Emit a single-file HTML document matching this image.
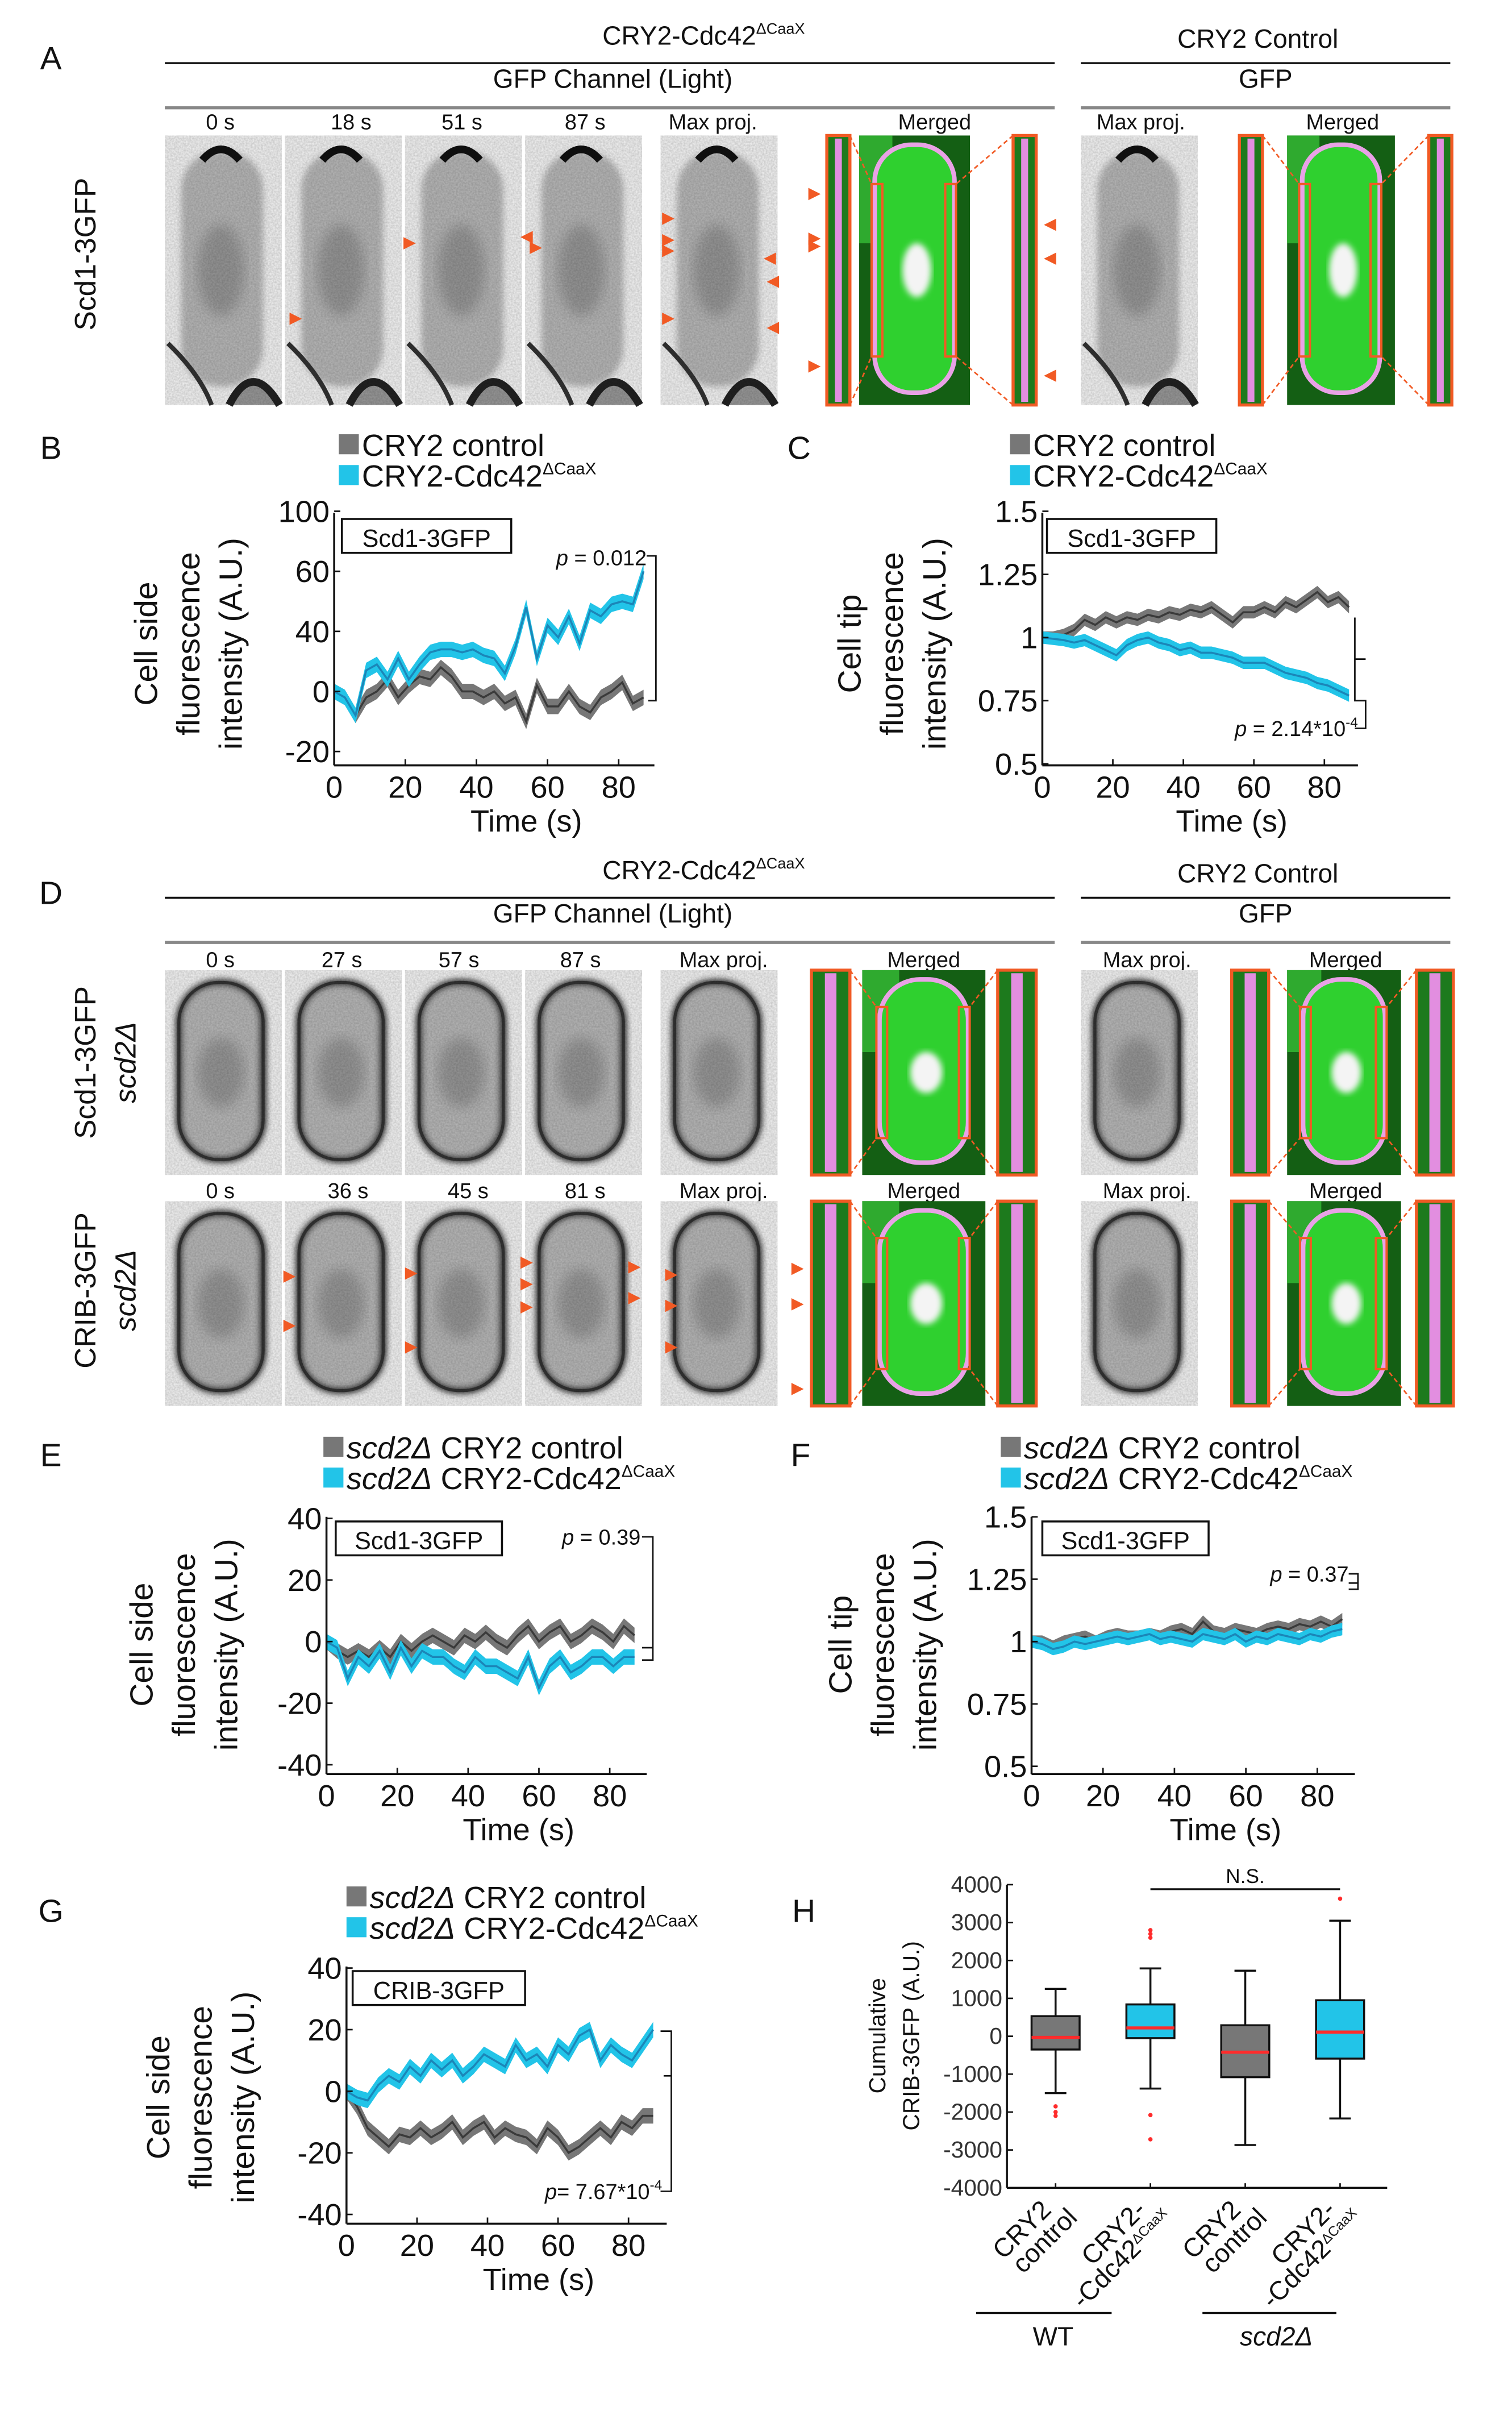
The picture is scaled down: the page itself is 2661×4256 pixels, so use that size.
<!DOCTYPE html>
<html><head><meta charset="utf-8"><style>
html,body{margin:0;padding:0;background:#fff;}
body{width:2661px;height:4251px;overflow:hidden;}
svg text{font-family:"Liberation Sans",sans-serif;}
</style></head><body>
<svg id="fig" xmlns="http://www.w3.org/2000/svg" width="2661" height="4251" viewBox="0 0 982 1569">
<defs>
<filter id="grain" x="0" y="0" width="100%" height="100%"><feTurbulence type="fractalNoise" baseFrequency="0.9" numOctaves="2" seed="3"/><feColorMatrix values="0 0 0 0 0  0 0 0 0 0  0 0 0 0 0  0 0 0 0.22 0"/><feComposite in2="SourceGraphic" operator="in"/></filter>
<filter id="blur2"><feGaussianBlur stdDeviation="2"/></filter>
<filter id="blur4"><feGaussianBlur stdDeviation="4"/></filter>
</defs>
<g id="root"></g>
</svg>
<script>
// ---------- chart data ----------
const times = [0,3,6,9,12,15,18,21,24,27,30,33,36,39,42,45,48,51,54,57,60,63,66,69,72,75,78,81,84,87];
const xTicks = [0,20,40,60,80];
const bGray = [0,-2,-8,-2,0,4,-2,2,5,4,8,5,0,0,-2,0,-4,-2,-10,2,-5,-5,0,-5,-7,-2,0,3,-4,-2];
const bBlue = [0,-2,-8,7,9,4,11,4,9,13,14,14,13,14,12,11,6,15,28,11,22,18,25,16,27,25,29,30,29,40];
const bTickVals = [-20,0,20,40,60];
const bTickLabels = ["-20","0","40","60","100"];
const cGray = [1,1,1.01,1.03,1.07,1.05,1.08,1.06,1.08,1.07,1.09,1.08,1.10,1.09,1.11,1.10,1.12,1.09,1.06,1.10,1.10,1.12,1.10,1.14,1.12,1.15,1.18,1.14,1.16,1.12];
const cBlue = [1,0.995,0.99,0.98,0.99,0.97,0.95,0.93,0.97,0.99,1.0,0.98,0.97,0.95,0.96,0.94,0.94,0.93,0.92,0.9,0.9,0.9,0.88,0.86,0.85,0.84,0.82,0.81,0.79,0.77];
const cTickVals = [0.5,0.75,1,1.25,1.5];
const cTickLabels = ["0.5","0.75","1","1.25","1.5"];
const eGray = [0,-3,-5,-3,-5,-2,-5,0,-3,0,2,0,-2,2,0,3,0,-2,2,5,0,3,5,0,2,5,3,0,5,2];
const eBlue = [0,-2,-12,-5,-8,-3,-10,-2,-8,-3,-5,-5,-8,-10,-5,-8,-8,-10,-12,-5,-15,-8,-5,-10,-8,-5,-5,-8,-5,-5];
const eTickVals = [-40,-20,0,20,40];
const fGray = [1,1,0.98,1,1.01,1.02,1.0,1.02,1.03,1.02,1.02,1.03,1.02,1.04,1.05,1.03,1.08,1.04,1.03,1.05,1.04,1.03,1.05,1.06,1.05,1.07,1.06,1.08,1.06,1.09];
const fBlue = [1,0.99,0.97,0.98,1,0.99,1.0,1.01,1.02,1.01,1.02,1.03,1.01,1.02,1.01,1.0,1.03,1.02,1.01,1.03,1.0,1.02,1.01,1.03,1.02,1.01,1.03,1.02,1.04,1.05];
const gGray = [0,-5,-12,-15,-18,-14,-15,-12,-15,-13,-10,-15,-12,-10,-15,-12,-14,-15,-18,-12,-15,-20,-18,-15,-12,-15,-10,-12,-8,-8];
const gBlue = [0,-2,-3,2,5,3,8,5,10,7,10,5,8,12,10,8,15,10,12,8,15,12,18,20,10,15,12,10,15,20];
const hCategories = ["WT CRY2 control","WT CRY2-Cdc42","scd2 CRY2 control","scd2 CRY2-Cdc42"];
const hQ1 = [-350,-50,-1080,-590];
const hMedian = [-30,220,-420,110];
const hQ3 = [530,840,290,950];
const hWhiskerLow = [-1500,-1380,-2870,-2170];
const hWhiskerHigh = [1250,1790,1730,3050];
const hOutliers = [[-1850,-2000,-2100],[2800,2700,2600,-2080,-2720],[],[3630]];
const hTickVals = [-4000,-3000,-2000,-1000,0,1000,2000,3000,4000];

const NS="http://www.w3.org/2000/svg";
const root=document.getElementById('root');
function el(tag,attrs,parent){const e=document.createElementNS(NS,tag);for(const k in attrs)e.setAttribute(k,attrs[k]);(parent||root).appendChild(e);return e;}
function txt(x,y,s,size,opts,parent){opts=opts||{};const t=el('text',{x:x,y:y,'font-size':size,'text-anchor':opts.anchor||'middle',fill:opts.fill||'#111'},parent);if(opts.rot)t.setAttribute('transform','rotate('+opts.rot+' '+x+' '+y+')');if(opts.italic)t.setAttribute('font-style','italic');if(opts.html)t.innerHTML=s;else t.textContent=s;return t;}
const GRAYF='#777', GRAYL='#3a3a3a', BLUEF='#22c4e8', BLUEL='#1b86b8';

// ---------- panel letters ----------
[['A',33,45],['B',33,298],['C',519,298],['D',33,587],['E',33,952],['F',520,952],['G',33,1248],['H',522,1248]].forEach(p=>{
  const t=txt(p[1],p[2],p[0],21,{});
  
  
});

// ---------- microscopy headers ----------
function headers(y0){
  const g=el('g',{});
  
  
  txt(457,y0,'CRY2-Cdc42<tspan font-size="10" dy="-7">ΔCaaX</tspan>',17,{html:true},g);
  el('line',{x1:107,y1:y0+12,x2:685,y2:y0+12,stroke:'#111','stroke-width':1.3},g);
  txt(817,y0+2,'CRY2 Control',17,{},g);
  el('line',{x1:702,y1:y0+12,x2:942,y2:y0+12,stroke:'#111','stroke-width':1.3},g);
  txt(398,y0+28,'GFP Channel (Light)',17,{},g);
  el('line',{x1:107,y1:y0+41,x2:685,y2:y0+41,stroke:'#888','stroke-width':2},g);
  txt(822,y0+28,'GFP',17,{},g);
  el('line',{x1:702,y1:y0+41,x2:942,y2:y0+41,stroke:'#888','stroke-width':2},g);
}
headers(29); headers(571);

function grayFrame(x,y,w,h,name,cap){
  const g=el('g',{});
  
  
  el('rect',{x:x,y:y,width:w,height:h,fill:'#f6f6f6'},g);
  el('rect',{x:x+w*0.14,y:y+10,width:w*0.7,height:h-22,rx:w*0.33,fill:'#b3b3b3',opacity:0.9,filter:'url(#blur2)'},g);
  el('ellipse',{cx:x+w*0.48,cy:y+h*0.5,rx:w*0.2,ry:h*0.17,fill:'#777',opacity:0.5,filter:'url(#blur4)'},g);
  if(cap){el('path',{d:'M'+(x+w*0.32)+' '+(y+16)+' Q'+(x+w*0.48)+' '+(y+2)+' '+(x+w*0.64)+' '+(y+16),stroke:'#111','stroke-width':5,fill:'none'},g);
    el('path',{d:'M'+(x+w*0.55)+' '+(y+h)+' Q'+(x+w*0.75)+' '+(y+h-30)+' '+(x+w*0.98)+' '+(y+h),stroke:'#222','stroke-width':5,fill:'#999'},g);
    el('path',{d:'M'+(x+2)+' '+(y+h-40)+' Q'+(x+w*0.3)+' '+(y+h-20)+' '+(x+w*0.4)+' '+(y+h),stroke:'#333','stroke-width':3,fill:'none'},g);}
  else{el('rect',{x:x+w*0.12,y:y+8,width:w*0.72,height:h-18,rx:w*0.34,fill:'none',stroke:'#222','stroke-width':4,filter:'url(#blur2)'},g);
    el('rect',{x:x+w*0.12,y:y+8,width:w*0.72,height:h-18,rx:w*0.34,fill:'none',stroke:'#333','stroke-width':2},g);}
  el('rect',{x:x,y:y,width:w,height:h,fill:'#000',filter:'url(#grain)'},g);
}
function mergedFrame(x,y,w,h,lx,rx,iw,name){
  const g=el('g',{});
  
  
  el('rect',{x:x,y:y,width:w,height:h,fill:'#145f14'},g);
  el('rect',{x:x,y:y,width:w*0.3,height:h*0.4,fill:'#2faa2f'},g);
  el('rect',{x:x+w*0.14,y:y+6,width:w*0.72,height:h-14,rx:w*0.33,fill:'#2fd02f',stroke:'#e9a2e6','stroke-width':3},g);
  el('ellipse',{cx:x+w*0.52,cy:y+h*0.5,rx:w*0.13,ry:h*0.1,fill:'#f4f4f4',filter:'url(#blur2)'},g);
  const bx1=x+w*0.14, bx2=x+w*0.86-6;
  el('rect',{x:bx1-2,y:y+h*0.18,width:7,height:h*0.64,fill:'none',stroke:'#f15a24','stroke-width':1.5},g);
  el('rect',{x:bx2,y:y+h*0.18,width:7,height:h*0.64,fill:'none',stroke:'#f15a24','stroke-width':1.5},g);
  [[lx,bx1-2],[rx,bx2+7]].forEach((p,i)=>{
    el('rect',{x:p[0],y:y,width:iw,height:h,fill:'#1d7a1d',stroke:'#f15a24','stroke-width':2},g);
    el('rect',{x:p[0]+iw*0.35,y:y+2,width:iw*0.3,height:h-4,fill:'#e28ee0'},g);
    const ex=i==0?p[0]+iw:p[0];
    el('line',{x1:ex,y1:y,x2:p[1],y2:y+h*0.18,stroke:'#f15a24','stroke-width':1,'stroke-dasharray':'3,2'},g);
    el('line',{x1:ex,y1:y+h,x2:p[1],y2:y+h*0.82,stroke:'#f15a24','stroke-width':1,'stroke-dasharray':'3,2'},g);
  });
}
function arrow(x,y,dir){
  const a=el('polygon',{points: dir>0? (x-8)+','+(y-4)+' '+x+','+y+' '+(x-8)+','+(y+4) : (x+8)+','+(y-4)+' '+x+','+y+' '+(x+8)+','+(y+4), fill:'#f15a24'});
  
  
}
function rowLabels(y,labels,xs){labels.forEach((l,i)=>txt(xs[i],y,l,14,{}));}
const fx=[107,185,263,341];
rowLabels(84,['0 s','18 s','51 s','87 s','Max proj.','Merged','Max proj.','Merged'],[143,228,300,380,463,607,741,872]);
fx.forEach((x,i)=>grayFrame(x,88,76,175,'a-frame-'+i,true));
grayFrame(429,88,76,175,'a-max-proj',true);
mergedFrame(558,88,72,175,537,658,15,'a-merged');
grayFrame(702,88,76,175,'a-control-max-proj',true);
mergedFrame(836,88,70,175,805,928,15,'a-control-merged');
[[196,207,1],[270,158,1],[338,154,-1],[352,161,1],[438,142,1],[438,156,1],[438,163,1],[496,168,-1],[498,183,-1],[438,207,1],[498,213,-1],[533,126,1],[533,155,1],[533,160,1],[533,238,1],[678,146,-1],[678,168,-1],[678,244,-1]].forEach(a=>arrow(a[0],a[1],a[2]));
txt(62,165,'Scd1-3GFP',19,{rot:-90});
rowLabels(628,['0 s','27 s','57 s','87 s','Max proj.','Merged','Max proj.','Merged'],[143,222,298,377,470,600,745,874]);
fx.forEach((x,i)=>grayFrame(x,630,76,133,'d1-frame-'+i,false));
grayFrame(429,630,76,133,'d1-max-proj',false);
mergedFrame(560,630,80,133,527,648,25,'d1-merged');
grayFrame(702,630,76,133,'d1-control-max-proj',false);
mergedFrame(836,630,74,133,800,920,24,'d1-control-merged');
rowLabels(778,['0 s','36 s','45 s','81 s','Max proj.','Merged','Max proj.','Merged'],[143,226,304,380,470,600,745,874]);
fx.forEach((x,i)=>grayFrame(x,780,76,133,'d2-frame-'+i,false));
grayFrame(429,780,76,133,'d2-max-proj',false);
mergedFrame(560,780,80,133,527,648,25,'d2-merged');
grayFrame(702,780,76,133,'d2-control-max-proj',false);
mergedFrame(836,780,74,133,800,920,24,'d2-control-merged');
[[192,829,1],[192,861,1],[271,827,1],[271,875,1],[346,820,1],[346,834,1],[346,849,1],[416,823,1],[416,843,1],[440,828,1],[440,848,1],[440,875,1],[522,824,1],[522,847,1],[522,902,1]].forEach(a=>arrow(a[0],a[1],a[2]));
txt(62,690,'Scd1-3GFP',19,{rot:-90});
txt(88,690,'scd2Δ',19,{rot:-90,italic:true});
txt(62,838,'CRIB-3GFP',19,{rot:-90});
txt(88,838,'scd2Δ',19,{rot:-90,italic:true});

// ---------- line charts ----------
function legend(x,y,l1,l2,name){
  const g=el('g',{});
  
  
  el('rect',{x:x,y:y-14,width:13,height:13,fill:GRAYF},g);
  el('rect',{x:x,y:y+6,width:13,height:13,fill:BLUEF},g);
  txt(x+15,y,l1,20,{anchor:'start',html:true},g);
  txt(x+15,y+20,l2,20,{anchor:'start',html:true},g);
}
function lineChart(c){
  const g=el('g',{});
  
  
  const X=t=>c.x0+t*c.px, Y=v=>c.y0-(v-c.base)*c.py;
  [[c.gray,GRAYF,GRAYL,'gray'],[c.blue,BLUEF,BLUEL,'blue']].forEach(s=>{
    const up=s[0].map((v,i)=>X(times[i])+','+(Y(v)-c.band)).join(' ');
    const dn=s[0].map((v,i)=>X(times[i])+','+(Y(v)+c.band)).reverse().join(' ');
    const band=el('polygon',{points:up+' '+dn,fill:s[1]},g);
    
    
    const ln=el('polyline',{points:s[0].map((v,i)=>X(times[i])+','+Y(v)).join(' '),fill:'none',stroke:s[2],'stroke-width':1.3},g);
    
    
  });
  const bottom=c.axisBottom;
  el('line',{x1:c.x0,y1:c.axisTop,x2:c.x0,y2:bottom,stroke:'#111','stroke-width':1.3},g);
  el('line',{x1:c.x0,y1:bottom,x2:c.x0+c.axisLen,y2:bottom,stroke:'#111','stroke-width':1.3},g);
  c.ticks.forEach((v,i)=>{el('line',{x1:c.x0,y1:Y(v),x2:c.x0+4,y2:Y(v),stroke:'#111'},g);txt(c.x0-3,Y(v)+7,c.tickLabels[i],20,{anchor:'end'},g);});
  xTicks.forEach(t=>{el('line',{x1:X(t),y1:bottom,x2:X(t),y2:bottom-4,stroke:'#111'},g);txt(X(t),bottom+21,String(t),20,{},g);});
  txt(c.x0+c.axisLen*0.6,bottom+43,'Time (s)',20,{},g);
  c.ytitle.forEach((l,i)=>txt(c.ytx+i*27.5,c.yty,l,21,{rot:-90},g));
  el('rect',{x:c.boxX,y:c.boxY,width:c.boxW,height:22,fill:'#fff',stroke:'#111','stroke-width':1.3},g);
  txt(c.boxX+c.boxW/2,c.boxY+18,c.boxLabel,16,{},g);
  txt(c.pX,c.pY,c.pText,14,{anchor:'end',html:true},g);
  el('path',{d:c.bracket,fill:'none',stroke:'#111','stroke-width':1},g);
}
legend(220,296,'CRY2 control','CRY2-Cdc42<tspan font-size="11" dy="-8">ΔCaaX</tspan>','legend-b');
lineChart({name:'chart-b-side-intensity',gray:bGray,blue:bBlue,x0:217,px:2.31,y0:449,py:1.95,base:0,band:5,axisTop:333,axisBottom:497,axisLen:208,
  ticks:bTickVals,tickLabels:bTickLabels,ytitle:['Cell side','fluorescence','intensity (A.U.)'],ytx:102,yty:418,
  boxX:222,boxY:337,boxW:110,boxLabel:'Scd1-3GFP',pX:420,pY:367,pText:'<tspan font-style="italic">p</tspan> = 0.012',
  bracket:'M420 361 H426 V455 H421 M426 388 V455'});
legend(656,296,'CRY2 control','CRY2-Cdc42<tspan font-size="11" dy="-8">ΔCaaX</tspan>','legend-c');
lineChart({name:'chart-c-tip-intensity',gray:cGray,blue:cBlue,x0:677,px:2.29,y0:414,py:164,base:1,band:4,axisTop:333,axisBottom:497,axisLen:205,
  ticks:cTickVals,tickLabels:cTickLabels,ytitle:['Cell tip','fluorescence','intensity (A.U.)'],ytx:559,yty:418,
  boxX:680,boxY:337,boxW:110,boxLabel:'Scd1-3GFP',pX:882,pY:478,pText:'<tspan font-style="italic">p</tspan> = 2.14*10<tspan font-size="9" dy="-6">-4</tspan>',
  bracket:'M880 401 V455 H887 V473 H880 M880 428 H887'});
legend(210,947,'<tspan font-style="italic">scd2Δ</tspan> CRY2 control','<tspan font-style="italic">scd2Δ</tspan> CRY2-Cdc42<tspan font-size="11" dy="-8">ΔCaaX</tspan>','legend-e');
lineChart({name:'chart-e-side-intensity',gray:eGray,blue:eBlue,x0:212,px:2.3,y0:1066,py:2.0,base:0,band:5,axisTop:985,axisBottom:1152,axisLen:208,
  ticks:eTickVals,tickLabels:eTickVals.map(String),ytitle:['Cell side','fluorescence','intensity (A.U.)'],ytx:99,yty:1068,
  boxX:218,boxY:988,boxW:108,boxLabel:'Scd1-3GFP',pX:416,pY:1003,pText:'<tspan font-style="italic">p</tspan> = 0.39',
  bracket:'M417 998 H424 V1078 H417 M424 1070 H417'});
legend(650,947,'<tspan font-style="italic">scd2Δ</tspan> CRY2 control','<tspan font-style="italic">scd2Δ</tspan> CRY2-Cdc42<tspan font-size="11" dy="-8">ΔCaaX</tspan>','legend-f');
lineChart({name:'chart-f-tip-intensity',gray:fGray,blue:fBlue,x0:670,px:2.32,y0:1066,py:162,base:1,band:4,axisTop:985,axisBottom:1152,axisLen:210,
  ticks:cTickVals,tickLabels:cTickLabels,ytitle:['Cell tip','fluorescence','intensity (A.U.)'],ytx:553,yty:1068,
  boxX:677,boxY:988,boxW:108,boxLabel:'Scd1-3GFP',pX:876,pY:1027,pText:'<tspan font-style="italic">p</tspan> = 0.37',
  bracket:'M876 1022 H882 V1032 H876 M882 1028 H876'});
legend(225,1239,'<tspan font-style="italic">scd2Δ</tspan> CRY2 control','<tspan font-style="italic">scd2Δ</tspan> CRY2-Cdc42<tspan font-size="11" dy="-8">ΔCaaX</tspan>','legend-g');
lineChart({name:'chart-g-side-intensity',gray:gGray,blue:gBlue,x0:225,px:2.29,y0:1358,py:2.0,base:0,band:5,axisTop:1277,axisBottom:1444,axisLen:208,
  ticks:eTickVals,tickLabels:eTickVals.map(String),ytitle:['Cell side','fluorescence','intensity (A.U.)'],ytx:110,yty:1362,
  boxX:229,boxY:1280,boxW:112,boxLabel:'CRIB-3GFP',pX:430,pY:1428,pText:'<tspan font-style="italic">p</tspan>= 7.67*10<tspan font-size="9" dy="-6">-4</tspan>',
  bracket:'M429 1319 H436 V1423 H429 M436 1348 H431'});

// ---------- box plot H ----------
(function(){
  const g=el('g',{});
  
  
  const Y=v=>1322.3-v*0.02461;
  const xc=i=>685.6+i*61.6;
  const hw=15.6;
  el('line',{x1:654,y1:Y(4000),x2:654,y2:Y(-4000),stroke:'#111','stroke-width':1.3},g);
  el('line',{x1:654,y1:Y(-4000),x2:901,y2:Y(-4000),stroke:'#111','stroke-width':1.3},g);
  hTickVals.forEach(v=>{el('line',{x1:654,y1:Y(v),x2:658,y2:Y(v),stroke:'#111'},g);txt(651,Y(v)+5,String(v),15,{anchor:'end',fill:'#333'},g);});
  txt(575,1322,'Cumulative',15,{rot:-90},g);
  txt(597,1322,'CRIB-3GFP (A.U.)',15,{rot:-90},g);
  hCategories.forEach((c,i)=>{
    const x=xc(i), fill=i%2==0?GRAYF:BLUEF;
    const bg=el('g',{},g);
    
    
    el('line',{x1:x,y1:Y(hWhiskerHigh[i]),x2:x,y2:Y(hWhiskerLow[i]),stroke:'#111','stroke-width':1.3},bg);
    el('line',{x1:x-7,y1:Y(hWhiskerHigh[i]),x2:x+7,y2:Y(hWhiskerHigh[i]),stroke:'#111','stroke-width':1.3},bg);
    el('line',{x1:x-7,y1:Y(hWhiskerLow[i]),x2:x+7,y2:Y(hWhiskerLow[i]),stroke:'#111','stroke-width':1.3},bg);
    el('rect',{x:x-hw,y:Y(hQ3[i]),width:2*hw,height:Y(hQ1[i])-Y(hQ3[i]),fill:fill,stroke:'#111','stroke-width':1.3},bg);
    el('line',{x1:x-hw,y1:Y(hMedian[i]),x2:x+hw,y2:Y(hMedian[i]),stroke:'#ff2b2b','stroke-width':2},bg);
    hOutliers[i].forEach(o=>{el('circle',{cx:x,cy:Y(o),r:1.4,fill:'#ff2b2b'},bg);});
    el('line',{x1:x,y1:Y(-4000),x2:x,y2:Y(-4000)-3,stroke:'#111'},bg);
  });
  el('line',{x1:xc(1),y1:Y(3880),x2:xc(3),y2:Y(3880),stroke:'#111','stroke-width':1.2},g);
  txt(xc(2),Y(3880)-4,'N.S.',13,{},g);
  const labs=[['CRY2','control'],['CRY2-','-Cdc42<tspan font-size="9" dy="-5">ΔCaaX</tspan>'],['CRY2','control'],['CRY2-','-Cdc42<tspan font-size="9" dy="-5">ΔCaaX</tspan>']];
  labs.forEach((l,i)=>{
    const x=xc(i);
    txt(x-2,1436,l[0],17,{anchor:'end',rot:-45,html:true},g);
    txt(x+15,1441,l[1],17,{anchor:'end',rot:-45,html:true},g);
  });
  el('line',{x1:634,y1:1502,x2:722,y2:1502,stroke:'#111','stroke-width':1.3},g);
  el('line',{x1:781,y1:1502,x2:868,y2:1502,stroke:'#111','stroke-width':1.3},g);
  txt(684,1523,'WT',17,{},g);
  txt(829,1523,'scd2Δ',17,{italic:true},g);
})();
</script>
</body></html>
